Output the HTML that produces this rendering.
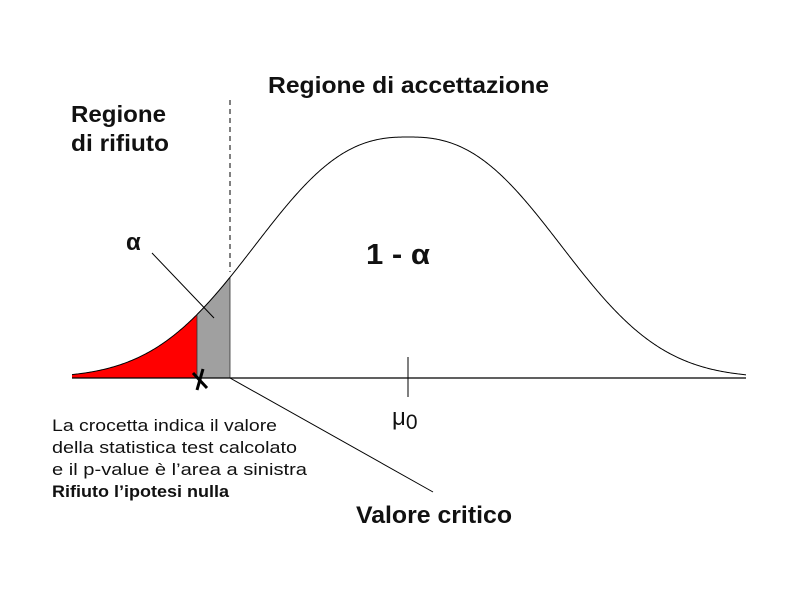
<!DOCTYPE html>
<html><head><meta charset="utf-8"><style>
body{margin:0;background:#fff}
svg text{font-family:"Liberation Sans",sans-serif;fill:#111}
</style></head><body>
<svg width="800" height="600" viewBox="0 0 800 600">
<g id="marks"></g>
<line x1="72" y1="378" x2="746" y2="378" stroke="#000" stroke-width="1.2"/>
<line x1="408" y1="357" x2="408" y2="397" stroke="#000" stroke-width="1"/>
<line x1="230" y1="100" x2="230" y2="272" stroke="#000" stroke-dasharray="5,4" stroke-width="1"/>
<line x1="152" y1="253" x2="214" y2="318" stroke="#000" stroke-width="1"/>
<line x1="230" y1="378" x2="433" y2="492" stroke="#000" stroke-width="1"/>
<g stroke="#000" stroke-width="3">
<line x1="193" y1="373" x2="207" y2="388"/><line x1="203" y1="369" x2="197" y2="390"/></g>
<text x="268" y="93" font-size="23" font-weight="bold" textLength="281" lengthAdjust="spacingAndGlyphs">Regione di accettazione</text>
<text x="71" y="122" font-size="23" font-weight="bold" textLength="95" lengthAdjust="spacingAndGlyphs">Regione</text>
<text x="71" y="151" font-size="23" font-weight="bold" textLength="98" lengthAdjust="spacingAndGlyphs">di rifiuto</text>
<text x="126" y="250" font-size="24" font-weight="bold">α</text>
<text x="366" y="264" font-size="29" font-weight="bold" textLength="64" lengthAdjust="spacingAndGlyphs">1 - α</text>
<text x="392" y="425" font-size="24">μ<tspan font-size="21" dy="4">0</tspan></text>
<text x="356" y="523" font-size="24" font-weight="bold" textLength="156" lengthAdjust="spacingAndGlyphs">Valore critico</text>
<g font-size="17">
<text x="52" y="431" textLength="225" lengthAdjust="spacingAndGlyphs">La crocetta indica il valore</text>
<text x="52" y="453" textLength="245" lengthAdjust="spacingAndGlyphs">della statistica test calcolato</text>
<text x="52" y="475" textLength="255" lengthAdjust="spacingAndGlyphs">e il p-value è l’area a sinistra</text>
<text x="52" y="497" font-weight="bold" textLength="177" lengthAdjust="spacingAndGlyphs">Rifiuto l’ipotesi nulla</text></g>
</svg>
<script>
const params=["mean","scale","exponent","peak"];
const paramValues=[408,188,2.5,241];
const boundaries=[72,197,230,746]; // start, test statistic, critical value, end
const baseline=378;
const f=x=>baseline-paramValues[3]*Math.exp(-Math.pow(Math.abs(x-paramValues[0])/paramValues[1],paramValues[2]));
const ns="http://www.w3.org/2000/svg",g=document.getElementById('marks');
function area(a,b){let d=`M${a},${baseline}`;for(let x=a;x<=b;x+=1)d+=` L${x},${f(x)}`;return d+` L${b},${f(b)} L${b},${baseline} Z`;}
const red=document.createElementNS(ns,'path');red.setAttribute('d',area(boundaries[0],boundaries[1]));red.setAttribute('fill','#f00');


g.appendChild(red);
const gray=document.createElementNS(ns,'path');gray.setAttribute('d',area(boundaries[1],boundaries[2]));gray.setAttribute('fill','#a0a0a0');gray.setAttribute('stroke','#333');gray.setAttribute('stroke-width','0.8');


g.appendChild(gray);
let d=`M${boundaries[0]},${f(boundaries[0])}`;for(let x=boundaries[0];x<=boundaries[3];x+=1)d+=` L${x},${f(x)}`;
const c=document.createElementNS(ns,'path');c.setAttribute('d',d);c.setAttribute('fill','none');c.setAttribute('stroke','#000');c.setAttribute('stroke-width','1');


g.appendChild(c);
</script>
</body></html>
